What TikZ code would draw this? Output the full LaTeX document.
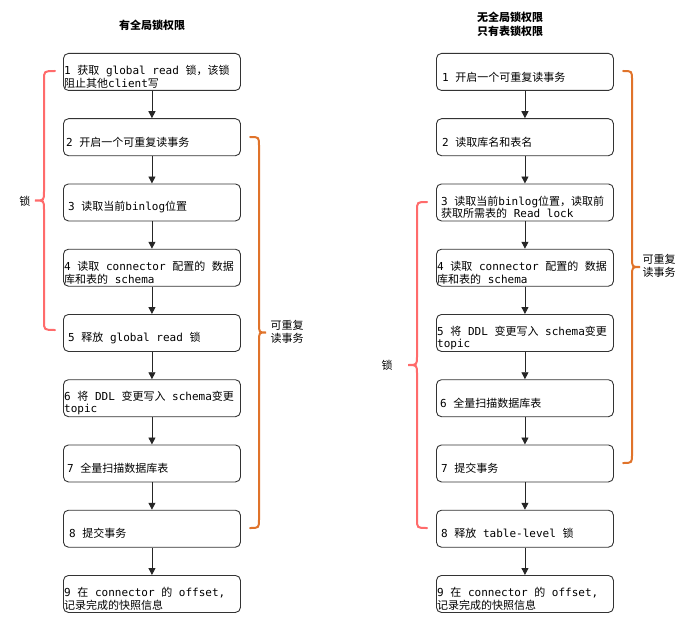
\documentclass[tikz,border=0pt]{standalone}
\usepackage{fontspec}
\setmainfont{DejaVu Sans Mono}
\newfontfamily\cjk{Noto Sans CJK SC}
\usetikzlibrary{arrows.meta}
\newcommand\C[1]{{\cjk #1}}
\definecolor{boxc}{HTML}{333333}
\definecolor{redb}{HTML}{FF6B6B}
\definecolor{orab}{HTML}{E0732A}
\tikzset{
  box/.style={draw=boxc, rounded corners=5pt, minimum width=177pt, minimum height=37pt, anchor=north west, inner sep=0pt, line width=0.9pt},
  txt/.style={anchor=west, align=left, inner sep=0pt, font=\fontsize{11}{12.5}\selectfont},
  arr/.style={draw=black!85, line width=0.9pt, -{Triangle[length=7pt,width=7pt]}},
  brace/.style={line width=2pt, line cap=round},
  lab/.style={align=center, inner sep=0pt, font=\cjk\fontsize{11}{12.5}\selectfont},
  ttl/.style={align=center, inner sep=0pt, font=\cjk\bfseries\fontsize{11}{14}\selectfont}
}
\begin{document}
\begin{tikzpicture}[x=1pt,y=-1pt]
\useasboundingbox (0,0) rectangle (684,639);
% titles
\node[ttl] (tl) at (152,25) {有全局锁权限};
\node[ttl] (tr) at (510,24) {无全局锁权限\\只有表锁权限};
% left boxes
\node[box] (L1) at (63,53) {};
\node[box] (L2) at (63,118.25) {};
\node[box] (L3) at (63,183.5) {};
\node[box] (L4) at (63,248.75) {};
\node[box] (L5) at (63,314) {};
\node[box] (L6) at (63,379.25) {};
\node[box] (L7) at (63,444.5) {};
\node[box] (L8) at (63,509.75) {};
\node[box] (L9) at (63,575) {};
% right boxes
\node[box] (R1) at (436,53) {};
\node[box] (R2) at (436,118.25) {};
\node[box] (R3) at (436,183.5) {};
\node[box] (R4) at (436,248.75) {};
\node[box] (R5) at (436,314) {};
\node[box] (R6) at (436,379.25) {};
\node[box] (R7) at (436,444.5) {};
\node[box] (R8) at (436,509.75) {};
\node[box] (R9) at (436,575) {};
% left texts
\node[txt] (tL1) at ([xshift=1pt,yshift=-5pt]L1.west) {1 \C{获取} global read \C{锁，该锁}\\\C{阻止其他}client\C{写}};
\node[txt] (tL2) at ([xshift=3pt,yshift=-5pt]L2.west) {2 \C{开启一个可重复读事务}};
\node[txt] (tL3) at ([xshift=5pt,yshift=-5pt]L3.west) {3 \C{读取当前}binlog\C{位置}};
\node[txt] (tL4) at ([xshift=1pt,yshift=-5pt]L4.west) {4 \C{读取} connector \C{配置的} \C{数据}\\\C{库和表的} schema};
\node[txt] (tL5) at ([xshift=5pt,yshift=-5pt]L5.west) {5 \C{释放} global read \C{锁}};
\node[txt] (tL6) at ([xshift=1pt,yshift=-5pt]L6.west) {6 \C{将} DDL \C{变更写入} schema\C{变更}\\topic};
\node[txt] (tL7) at ([xshift=4pt,yshift=-5pt]L7.west) {7 \C{全量扫描数据库表}};
\node[txt] (tL8) at ([xshift=6pt,yshift=-5pt]L8.west) {8 \C{提交事务}};
\node[txt] (tL9) at ([xshift=1pt,yshift=-5pt]L9.west) {9 \C{在} connector \C{的} offset,\\\C{记录完成的快照信息}};
% right texts
\node[txt] (tR1) at ([xshift=6pt,yshift=-5pt]R1.west) {1 \C{开启一个可重复读事务}};
\node[txt] (tR2) at ([xshift=6pt,yshift=-5pt]R2.west) {2 \C{读取库名和表名}};
\node[txt] (tR3) at ([xshift=5pt,yshift=-5pt]R3.west) {3 \C{读取当前}binlog\C{位置，读取前}\\\C{获取所需表的} Read lock};
\node[txt] (tR4) at ([xshift=1pt,yshift=-5pt]R4.west) {4 \C{读取} connector \C{配置的} \C{数据}\\\C{库和表的} schema};
\node[txt] (tR5) at ([xshift=1pt,yshift=-5pt]R5.west) {5 \C{将} DDL \C{变更写入} schema\C{变更}\\topic};
\node[txt] (tR6) at ([xshift=4pt,yshift=-5pt]R6.west) {6 \C{全量扫描数据库表}};
\node[txt] (tR7) at ([xshift=5pt,yshift=-5pt]R7.west) {7 \C{提交事务}};
\node[txt] (tR8) at ([xshift=5pt,yshift=-5pt]R8.west) {8 \C{释放} table-level \C{锁}};
\node[txt] (tR9) at ([xshift=1pt,yshift=-5pt]R9.west) {9 \C{在} connector \C{的} offset,\\\C{记录完成的快照信息}};
% arrows
\foreach \a/\b in {1/2,2/3,3/4,4/5,5/6,6/7,7/8,8/9}{
  \draw[arr] (L\a.south) -- (L\b.north);
  \draw[arr] (R\a.south) -- (R\b.north);
}
% braces
% left red (lock) : opens right
\draw[brace,redb] (55,71) .. controls (44,71) .. (44,80) -- (44,191.5) .. controls (44,200.5) .. (35,200.5) .. controls (44,200.5) .. (44,209.5) -- (44,321) .. controls (44,330) .. (55,330);
\node[lab] (labL1) at (25,201) {锁};
% left orange : opens left
\draw[brace,orab] (250,137) .. controls (259,137) .. (259,146) -- (259,323.5) .. controls (259,332.5) .. (266,332.5) .. controls (259,332.5) .. (259,341.5) -- (259,519) .. controls (259,528) .. (250,528);
\node[lab] (labL2) at (287,332) {可重复\\读事务};
% right orange
\draw[brace,orab] (623,71) .. controls (632,71) .. (632,80) -- (632,258) .. controls (632,267) .. (640,267) .. controls (632,267) .. (632,276) -- (632,454) .. controls (632,463) .. (623,463);
\node[lab] (labR2) at (659,266) {可重复\\读事务};
% right red
\draw[brace,redb] (427,202) .. controls (417,202) .. (417,211) -- (417,356) .. controls (417,365) .. (408,365) .. controls (417,365) .. (417,374) -- (417,519) .. controls (417,528) .. (427,528);
\node[lab] (labR1) at (387,365) {锁};
\end{tikzpicture}
\end{document}
